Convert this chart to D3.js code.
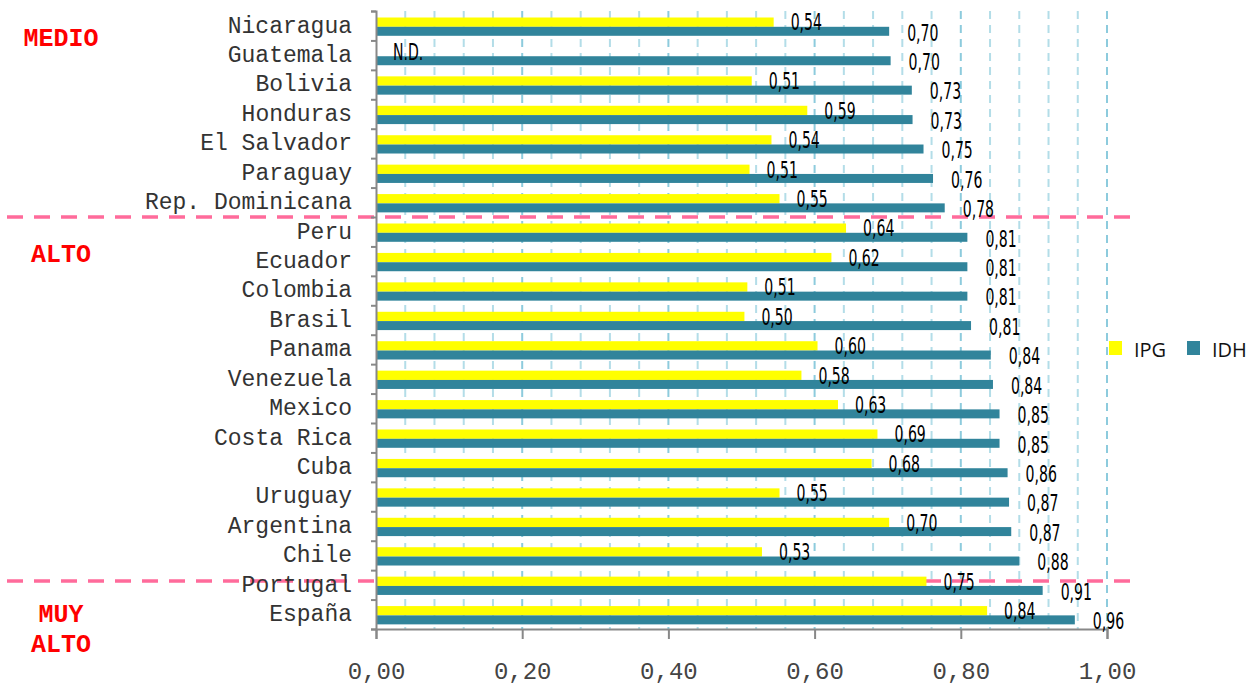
<!DOCTYPE html>
<html>
<head>
<meta charset="utf-8">
<script src="https://cdn.jsdelivr.net/npm/d3@7"></script>
<style>
  body { margin: 0; background: #fff; }
</style>
</head>
<body>
<div id="canvas"></div>
<script>
// data
const countries = ["Nicaragua", "Guatemala", "Bolivia", "Honduras", "El Salvador", "Paraguay",
  "Rep. Dominicana", "Peru", "Ecuador", "Colombia", "Brasil", "Panama", "Venezuela", "Mexico",
  "Costa Rica", "Cuba", "Uruguay", "Argentina", "Chile", "Portugal", "España"];
const ipg = [0.544, null, 0.514, 0.590, 0.541, 0.511, 0.552, 0.643, 0.623, 0.508, 0.504, 0.604,
  0.582, 0.632, 0.686, 0.678, 0.552, 0.702, 0.528, 0.753, 0.836];
const idh = [0.702, 0.704, 0.733, 0.734, 0.749, 0.762, 0.778, 0.809, 0.809, 0.809, 0.814, 0.841,
  0.844, 0.853, 0.853, 0.864, 0.866, 0.869, 0.880, 0.912, 0.956];
const seriesNames = ["IPG", "IDH"];
const xTicks = [0, 0.2, 0.4, 0.6, 0.8, 1.0];
const levelNames = ["MEDIO", "ALTO", "MUY", "ALTO"];

const width = 1257, height = 686;
const margin = { top: 11, left: 376, bottom: 57, right: 150 };
const colors = { IPG: "#ffff00", IDH: "#31849b" };

const svg = d3.select("#canvas").append("svg")
  .attr("width", width).attr("height", height);

const x = d3.scaleLinear().domain([0, 1]).range([margin.left, width - margin.right]);
const y = d3.scaleBand().domain(countries).range([margin.top, height - margin.bottom]);
const bw = y.bandwidth();

const comma = v => d3.format(".2f")(v).replace(".", ",");

// vertical dashed gridlines every 0.04
const grid = d3.range(1, 26).map(i => i * 0.04);
svg.append("g").selectAll("line").data(grid).enter().append("line")
  .attr("x1", d => x(d)).attr("x2", d => x(d))
  .attr("y1", margin.top).attr("y2", height - margin.bottom)
  .attr("stroke", (d, i) => (i + 1) % 5 === 0 ? "#8dcbdd" : "#b3dde8")
  .attr("stroke-width", 2)
  .attr("stroke-dasharray", "8,6");

// pink level separators
const sepY = [y("Peru"), y("Portugal") + bw * 0.37];
svg.append("g").selectAll("line").data(sepY).enter().append("line")
  .attr("x1", 7).attr("x2", 1137)
  .attr("y1", d => d).attr("y2", d => d)
  .attr("stroke", "#ff6b9b").attr("stroke-width", 3.5)
  .attr("stroke-dasharray", "16,11");

const rows = countries.map((c, i) => ({ c, ipg: ipg[i], idh: idh[i] }));

// bars
const g = svg.append("g");
g.selectAll("rect.ipg").data(rows.filter(d => d.ipg != null)).enter().append("rect")
  .attr("class", "ipg")
  .attr("x", x(0)).attr("y", d => y(d.c) + 6.5)
  .attr("width", d => x(d.ipg) - x(0)).attr("height", 9.3)
  .attr("fill", colors.IPG);
g.selectAll("rect.idh").data(rows).enter().append("rect")
  .attr("class", "idh")
  .attr("x", x(0)).attr("y", d => y(d.c) + 15.8)
  .attr("width", d => x(d.idh) - x(0)).attr("height", 9)
  .attr("fill", colors.IDH);

// axes
const yAxis = svg.append("g")
  .attr("transform", `translate(${x(0)},0)`)
  .call(d3.axisLeft(y).tickSize(0).tickPadding(24));
yAxis.select(".domain").remove();
yAxis.selectAll("text")
  .attr("font-family", "'Courier New', 'Liberation Mono', monospace")
  .attr("font-size", 23).attr("fill", "#333").attr("dy", "0.3em");

const yEdge = d3.scaleLinear().domain([0, countries.length]).range(y.range());
const yTicks = svg.append("g")
  .attr("transform", `translate(${x(0)},0)`)
  .call(d3.axisLeft(yEdge).ticks(countries.length).tickSize(5).tickFormat(""));
yTicks.selectAll("path,line").attr("stroke", "#888").attr("stroke-width", 2);

const xAxis = svg.append("g")
  .attr("transform", `translate(0,${height - margin.bottom})`)
  .call(d3.axisBottom(x).tickValues(xTicks).tickSize(10).tickPadding(23).tickFormat(comma));
xAxis.selectAll("path,line").attr("stroke", "#888").attr("stroke-width", 2);
xAxis.selectAll("text")
  .attr("font-family", "'Courier New', 'Liberation Mono', monospace")
  .attr("font-size", 24).attr("fill", "#444");

// value labels
const valueLabel = (sel, xv, yv, txt) => sel.append("text")
  .attr("transform", `translate(${xv},${yv}) scale(0.68,1)`)
  .attr("dy", "0.36em")
  .attr("font-family", "'DejaVu Sans', sans-serif")
  .attr("font-stretch", "condensed")
  .attr("font-size", 23)
  .attr("fill", "#000")
  .text(txt);
const labels = svg.append("g");
rows.forEach(d => {
  const v1 = d.ipg == null ? 0 : d.ipg;
  valueLabel(labels, x(v1) + 17, y(d.c) + 6.5 + 4.6, d.ipg == null ? "N.D." : comma(d.ipg));
  valueLabel(labels, x(d.idh) + 18, y(d.c) + 15.8 + 5.5, comma(d.idh));
});

// level annotations
const lvlPos = [[61, 46], [61, 262], [61, 622], [61, 652]];
svg.append("g").selectAll("text").data(levelNames).enter().append("text")
  .attr("x", (d, i) => lvlPos[i][0]).attr("y", (d, i) => lvlPos[i][1])
  .attr("text-anchor", "middle")
  .attr("font-family", "'Courier New', 'Liberation Mono', monospace")
  .attr("font-weight", "bold").attr("font-size", 25)
  .attr("fill", "#ff0000")
  .text(d => d);

// legend
const legend = svg.append("g").attr("transform", "translate(1109,341)");
seriesNames.forEach((s, i) => {
  const lg = legend.append("g").attr("transform", `translate(${i * 78},0)`);
  lg.append("rect").attr("width", 13).attr("height", 14).attr("fill", colors[s]);
  lg.append("text").attr("x", 25).attr("y", 16)
    .attr("font-family", "'Open Sans', sans-serif").attr("font-size", 20)
    .attr("fill", "#111").text(s);
});
</script>
</body>
</html>
